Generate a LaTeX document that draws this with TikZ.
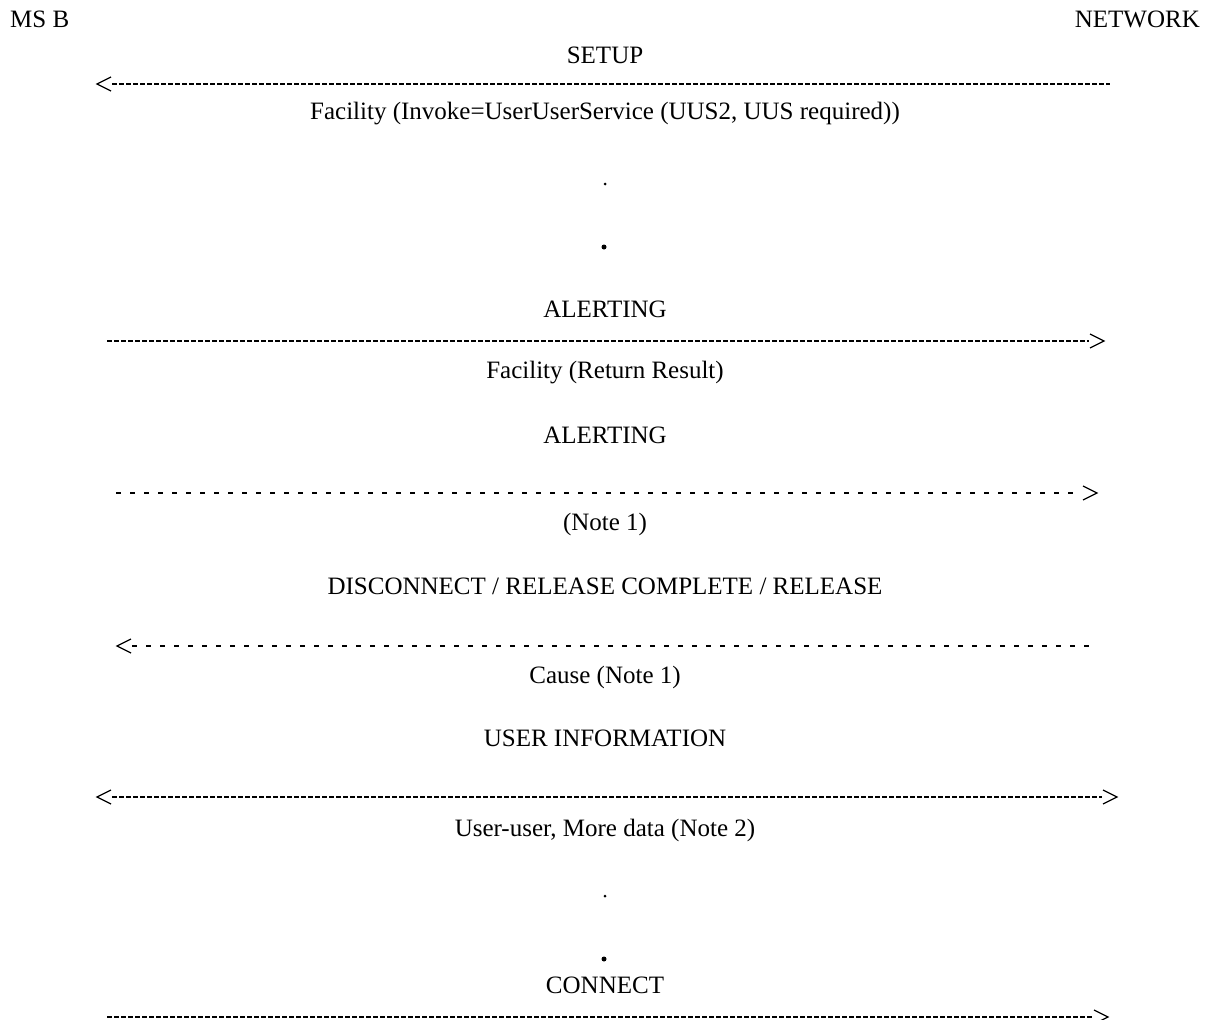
\documentclass[tikz,border=0pt]{standalone}
\usepackage{fontspec}
\setmainfont{Liberation Serif}
\begin{document}
\begin{tikzpicture}[x=1pt,y=-1pt,
  lbl/.style={inner sep=0pt, anchor=base, font=\fontsize{25}{30}\selectfont},
  tight/.style={line width=1.8pt, dash pattern=on 5pt off 2pt},
  spaced/.style={line width=1.8pt, dash pattern=on 5pt off 9pt},
  chevR/.pic={\draw[solid, line width=1.2pt, line join=miter] (-14,-7) -- (0,0) -- (-14,7);},
  chevL/.pic={\draw[solid, line width=1.2pt, line join=miter] (14,-7) -- (0,0) -- (14,7);},
  dotS/.style={fill=black, draw=none},
]
\useasboundingbox (0,0) rectangle (1205,1020);
\node[lbl, anchor=base west] (msb) at (10,27) {MS B};
\node[lbl, anchor=base east] (net) at (1200,27) {NETWORK};

\node[lbl] (setup) at (605,63) {SETUP};
\coordinate (a1l) at (97,84); \coordinate (a1r) at (1110,84);
\draw[tight, shorten <=15pt] (a1l) -- (a1r);
\pic at (a1l) {chevL};
\node[lbl] (fac1) at (605,119) {Facility (Invoke=UserUserService (UUS2, UUS required))};
\fill[dotS] (605,184) circle (1.5) coordinate (d1);
\fill[dotS] (604,247) circle (2.5) coordinate (d2);

\node[lbl] (al1) at (605,317) {ALERTING};
\coordinate (a2l) at (107,341); \coordinate (a2r) at (1104,341);
\draw[tight, shorten >=15pt] (a2l) -- (a2r);
\pic at (a2r) {chevR};
\node[lbl] (rr) at (605,378) {Facility (Return Result)};

\node[lbl] (al2) at (605,443) {ALERTING};
\coordinate (a3l) at (116,493); \coordinate (a3r) at (1097,493);
\draw[spaced, shorten >=16pt] (a3l) -- (a3r);
\pic at (a3r) {chevR};
\node[lbl] (n1) at (605,530) {(Note 1)};

\node[lbl] (disc) at (605,594) {DISCONNECT / RELEASE COMPLETE / RELEASE};
\coordinate (a4l) at (117,646); \coordinate (a4r) at (1092,646);
\draw[spaced, shorten <=15pt] (a4l) -- (a4r);
\pic at (a4l) {chevL};
\node[lbl] (cause) at (605,683) {Cause (Note 1)};

\node[lbl] (ui) at (605,746) {USER INFORMATION};
\coordinate (a5l) at (97,797); \coordinate (a5r) at (1117,797);
\draw[tight, shorten <=15pt, shorten >=15pt] (a5l) -- (a5r);
\pic at (a5l) {chevL};
\pic at (a5r) {chevR};
\node[lbl] (uu) at (605,836) {User-user, More data (Note 2)};
\fill[dotS] (605,896) circle (1.5) coordinate (d3);
\fill[dotS] (604,959) circle (2.5) coordinate (d4);

\node[lbl] (conn) at (605,993) {CONNECT};
\coordinate (a6l) at (107,1017); \coordinate (a6r) at (1108,1017);
\draw[tight, shorten >=15pt] (a6l) -- (a6r);
\pic at (a6r) {chevR};
\end{tikzpicture}
\end{document}
